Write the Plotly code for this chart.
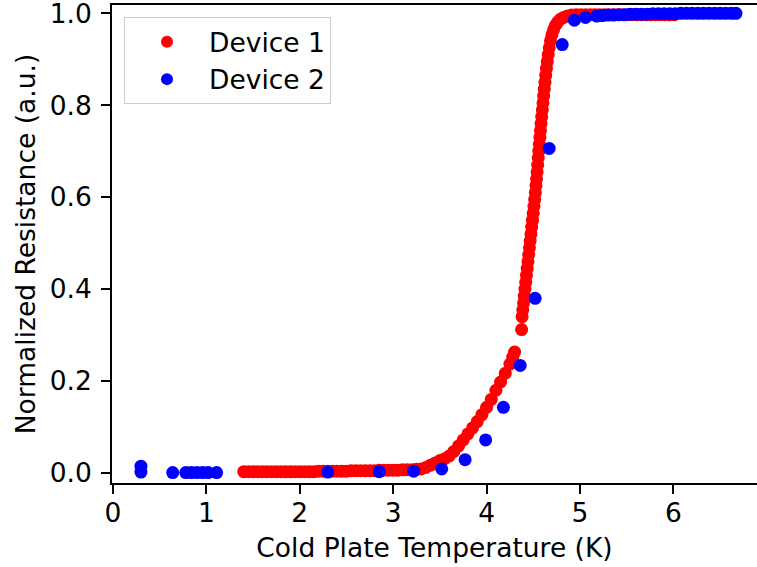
import plotly.graph_objects as go

dev1_x = [
    1.40, 1.45, 1.50, 1.55, 1.60, 1.65, 1.70, 1.75, 1.80, 1.85, 1.90, 1.95,
    2.00, 2.05, 2.10, 2.15, 2.20, 2.25, 2.30, 2.35, 2.40, 2.45, 2.50, 2.55,
    2.60, 2.65, 2.70, 2.75, 2.80, 2.85, 2.90, 2.95, 3.00, 3.05, 3.10, 3.15,
    3.20, 3.25, 3.30, 3.35, 3.40, 3.45, 3.50, 3.55, 3.60, 3.65, 3.70, 3.75,
    3.80, 3.85, 3.90, 3.95, 4.00, 4.05, 4.10, 4.15, 4.20, 4.25, 4.28, 4.30,
    4.375,
    4.380, 4.388, 4.396, 4.403, 4.411, 4.419, 4.427, 4.435, 4.443, 4.451,
    4.459, 4.467, 4.475, 4.483, 4.491, 4.499, 4.507, 4.515, 4.522, 4.529,
    4.535, 4.541, 4.547, 4.553, 4.559, 4.565, 4.571, 4.577, 4.583, 4.590,
    4.597, 4.604, 4.611, 4.618, 4.625, 4.633, 4.641, 4.650, 4.660, 4.671,
    4.684, 4.699, 4.717, 4.738, 4.762, 4.790, 4.825, 4.865, 4.910,
    4.96, 5.01, 5.06, 5.11, 5.16, 5.21, 5.26, 5.31, 5.36, 5.41, 5.46, 5.51,
    5.56, 5.61, 5.66, 5.71, 5.76, 5.81, 5.86, 5.91, 5.96, 6.01,
]
dev1_y = [
    0.003, 0.003, 0.003, 0.003, 0.003, 0.003, 0.003, 0.003, 0.003, 0.003, 0.003, 0.003,
    0.003, 0.003, 0.003, 0.003, 0.004, 0.004, 0.004, 0.004, 0.004, 0.004, 0.004, 0.005,
    0.005, 0.005, 0.005, 0.005, 0.005, 0.006, 0.006, 0.006, 0.006, 0.006, 0.007, 0.007,
    0.007, 0.008, 0.009, 0.012, 0.017, 0.022, 0.027, 0.031, 0.037, 0.047, 0.059, 0.072,
    0.085, 0.098, 0.112, 0.127, 0.143, 0.160, 0.180, 0.198, 0.217, 0.237, 0.252, 0.263,
    0.312,
    0.340, 0.355, 0.370, 0.385, 0.400, 0.415, 0.430, 0.445, 0.460, 0.475,
    0.490, 0.505, 0.520, 0.535, 0.550, 0.565, 0.580, 0.595, 0.610, 0.625,
    0.640, 0.655, 0.670, 0.685, 0.700, 0.715, 0.730, 0.745, 0.760, 0.775,
    0.790, 0.805, 0.820, 0.835, 0.850, 0.865, 0.880, 0.895, 0.910, 0.925,
    0.940, 0.953, 0.964, 0.974, 0.981, 0.987, 0.991, 0.994, 0.996,
    0.997, 0.997, 0.997, 0.997, 0.997, 0.997, 0.997, 0.997, 0.997, 0.997, 0.997, 0.997,
    0.997, 0.997, 0.997, 0.997, 0.997, 0.997, 0.997, 0.997, 0.997, 0.997,
]

# Device 2 (blue)
dev2_x = [
    0.30, 0.30, 0.64, 0.78, 0.84, 0.90, 0.96, 1.02, 1.11,
    2.30, 2.85, 3.22, 3.52, 3.77, 3.99, 4.18, 4.36, 4.52, 4.67, 4.81, 4.94, 5.06,
    5.18, 5.24, 5.30, 5.36, 5.42, 5.48, 5.54, 5.60, 5.66, 5.72, 5.78, 5.84,
    5.90, 5.96, 6.02, 6.08, 6.14, 6.20, 6.26, 6.32, 6.38, 6.44, 6.50, 6.56,
    6.62, 6.67,
]
dev2_y = [
    0.015, 0.002, 0.001, 0.001, 0.001, 0.001, 0.001, 0.001, 0.001,
    0.002, 0.003, 0.004, 0.009, 0.029, 0.072, 0.143, 0.234, 0.380, 0.706, 0.932, 0.985, 0.991,
    0.994, 0.995, 0.996, 0.996, 0.997, 0.997, 0.998, 0.998, 0.998, 0.998, 0.999, 0.999,
    0.999, 0.999, 0.999, 1.000, 1.000, 1.000, 1.000, 1.000, 1.000, 1.000, 1.000, 1.000,
    1.000, 1.000,
]

x_ticks = [0, 1, 2, 3, 4, 5, 6]
y_ticks = [0.0, 0.2, 0.4, 0.6, 0.8, 1.0]

FONT = "DejaVu Sans"
FS = 26.5

fig = go.Figure()
fig.add_trace(go.Scatter(x=dev1_x, y=dev1_y, mode="markers", name="Device 1",
                         marker=dict(color="#ff0000", size=13, line=dict(width=0))))
fig.add_trace(go.Scatter(x=dev2_x, y=dev2_y, mode="markers", name="Device 2",
                         marker=dict(color="#0000ff", size=13, line=dict(width=0))))

axis_common = dict(showgrid=False, zeroline=False, showline=True, linecolor="black",
                   linewidth=1.6, ticks="outside", ticklen=9, tickwidth=1.5,
                   tickcolor="black", automargin=False, ticklabeloverflow="allow",
                   tickfont=dict(family=FONT, size=FS, color="black"))

fig.update_layout(
    width=757, height=567,
    margin=dict(l=112, r=0, t=5, b=84),
    plot_bgcolor="white", paper_bgcolor="white",
    font=dict(family=FONT, size=FS, color="black"),
    showlegend=True,
    legend=dict(x=0.0186, y=0.975, xanchor="left", yanchor="top",
                bgcolor="white", bordercolor="#cccccc", borderwidth=1,
                font=dict(family=FONT, size=FS, color="black"),
                itemsizing="constant", itemwidth=74,
                entrywidth=132, entrywidthmode="pixels"),
    xaxis=dict(range=[-0.01, 6.895], tickvals=x_ticks, ticktext=[str(t) for t in x_ticks],
               mirror=True, ticklabelstandoff=-4,
               title=dict(text="Cold Plate Temperature (K)", standoff=12,
                          font=dict(family=FONT, size=FS, color="black")),
               **axis_common),
    yaxis=dict(range=[-0.0217, 1.018], tickvals=y_ticks, ticktext=[f"{t:.1f}" for t in y_ticks],
               ticklabelstandoff=4,
               title=dict(text="Normalized Resistance (a.u.)", standoff=6,
                          font=dict(family=FONT, size=FS, color="black")),
               **axis_common),
)

fig.write_html(
    "out.html",
    config={"displayModeBar": False},
    post_script="document.body.style.margin='0';document.body.style.overflow='hidden';",
)
